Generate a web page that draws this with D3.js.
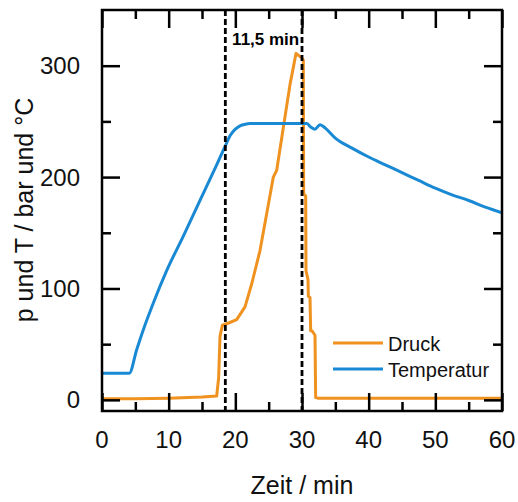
<!DOCTYPE html>
<html>
<head>
<meta charset="utf-8">
<script src="https://cdn.jsdelivr.net/npm/d3@7"></script>
<style>
  html, body { margin: 0; padding: 0; background: #fff; }
  svg { display: block; font-family: "Liberation Sans", Arial, sans-serif; }
</style>
</head>
<body>
<svg id="chart" width="518" height="502"></svg>
<script>
// ---- data ----
const tempTime = [0, 4.1, 5.2, 6.2, 7.7, 9.7, 12.2, 14.7, 17.2, 18.5, 19.2, 20, 20.7, 21.5, 22.2, 25, 28, 30.7, 31.3, 31.95, 32.7, 33.5, 35, 37.5, 40, 42.5, 45, 47.5, 50, 52.5, 55, 57.5, 60];
const tempValue = [24, 24, 45, 63, 87, 116, 147, 179, 211, 228, 237, 243, 246, 247.5, 248, 248, 248, 248, 245, 243, 247, 244, 235, 226, 218, 211, 204, 197, 190, 184, 179, 173, 168];

const pressTime = [0, 5, 10, 15, 17.2, 17.5, 17.7, 18.05, 19, 20.2, 21.45, 22.45, 23.7, 25.7, 26.2, 28.2, 29.1, 29.95, 30.2, 30.25, 30.55, 30.6, 30.9, 30.95, 31.2, 31.3, 31.5, 31.95, 32.05, 32.5, 40, 50, 60];
const pressValue = [1, 1, 1.5, 2.5, 3.5, 20, 57, 67, 69, 72, 83.5, 104, 134, 200, 206, 283, 311, 307, 305, 185, 183, 116, 108, 93, 92, 62, 62, 58, 2, 1.5, 1.5, 1.5, 1.5];

const markerTimes = [18.5, 30];
const markerLabel = "11,5 min";

const xTicks = [0, 10, 20, 30, 40, 50, 60];
const xMinorTicks = [5, 15, 25, 35, 45, 55];
const yTicks = [0, 100, 200, 300];
const yMinorTicks = [50, 150, 250];

const seriesNames = ["Druck", "Temperatur"];
const seriesColors = ["#EF921F", "#1A89D4"];

// ---- layout ----
const svg = d3.select("#chart");
const L = 102, T = 10, W = 400, H = 401;
const x = d3.scaleLinear().domain([0, 60]).range([L, L + W]);
const y = d3.scaleLinear().domain([-10, 350]).range([T + H, T]);

const line = d3.line().x(d => x(d[0])).y(d => y(d[1]));
const smoothLine = d3.line().x(d => x(d[0])).y(d => y(d[1])).curve(d3.curveMonotoneX);

const pressData = pressTime.map((t, i) => [t, pressValue[i]]);
const tempData = tempTime.map((t, i) => [t, tempValue[i]]);

svg.append("defs").append("clipPath").attr("id", "clip")
  .append("rect").attr("x", L).attr("y", T).attr("width", W).attr("height", H);

const plot = svg.append("g").attr("clip-path", "url(#clip)");

plot.append("path").datum(pressData)
  .attr("d", line).attr("fill", "none")
  .attr("stroke", seriesColors[0]).attr("stroke-width", 3).attr("stroke-linejoin", "round");

plot.append("path").datum(tempData)
  .attr("d", smoothLine).attr("fill", "none")
  .attr("stroke", seriesColors[1]).attr("stroke-width", 3).attr("stroke-linejoin", "round");

// dashed markers
plot.selectAll(".marker").data(markerTimes).enter().append("line")
  .attr("x1", d => x(d)).attr("x2", d => x(d))
  .attr("y1", T).attr("y2", T + H)
  .attr("stroke", "#000").attr("stroke-width", 2.8).attr("stroke-dasharray", "6,3");

svg.append("text")
  .attr("x", (x(markerTimes[0]) + x(markerTimes[1])) / 2 + 2)
  .attr("y", 45)
  .attr("text-anchor", "middle")
  .attr("font-size", 17).attr("font-weight", "bold")
  .text(markerLabel);

// axes with inward ticks (mirrored)
const major = 18, minor = 9;
const axB = d3.axisBottom(x).tickValues(xTicks).tickSize(-major).tickFormat(() => "");
const axBm = d3.axisBottom(x).tickValues(xMinorTicks).tickSize(-minor).tickFormat(() => "");
const axT = d3.axisTop(x).tickValues(xTicks).tickSize(-major).tickFormat(() => "");
const axTm = d3.axisTop(x).tickValues(xMinorTicks).tickSize(-minor).tickFormat(() => "");
const axL = d3.axisLeft(y).tickValues(yTicks).tickSize(-major).tickFormat(() => "");
const axLm = d3.axisLeft(y).tickValues(yMinorTicks).tickSize(-minor).tickFormat(() => "");
const axR = d3.axisRight(y).tickValues(yTicks).tickSize(-major).tickFormat(() => "");
const axRm = d3.axisRight(y).tickValues(yMinorTicks).tickSize(-minor).tickFormat(() => "");

function styleAxis(g) {
  g.select(".domain").remove();
  g.selectAll(".tick line").attr("stroke", "#000").attr("stroke-width", 2.5);
}
svg.append("g").attr("transform", `translate(0,${T + H})`).call(axB).call(styleAxis);
svg.append("g").attr("transform", `translate(0,${T + H})`).call(axBm).call(styleAxis);
svg.append("g").attr("transform", `translate(0,${T})`).call(axT).call(styleAxis);
svg.append("g").attr("transform", `translate(0,${T})`).call(axTm).call(styleAxis);
svg.append("g").attr("transform", `translate(${L},0)`).call(axL).call(styleAxis);
svg.append("g").attr("transform", `translate(${L},0)`).call(axLm).call(styleAxis);
svg.append("g").attr("transform", `translate(${L + W},0)`).call(axR).call(styleAxis);
svg.append("g").attr("transform", `translate(${L + W},0)`).call(axRm).call(styleAxis);

// frame
svg.append("rect").attr("x", L).attr("y", T).attr("width", W).attr("height", H)
  .attr("fill", "none").attr("stroke", "#000").attr("stroke-width", 2.5);

// tick labels
svg.selectAll(".xlab").data(xTicks).enter().append("text")
  .attr("x", d => x(d)).attr("y", 448)
  .attr("text-anchor", "middle").attr("font-size", 24).attr("fill", "#111")
  .text(d => d);
svg.selectAll(".ylab").data(yTicks).enter().append("text")
  .attr("x", 80).attr("y", d => y(d) + 8.5)
  .attr("text-anchor", "end").attr("font-size", 24).attr("fill", "#111")
  .text(d => d);

// axis titles
svg.append("text").attr("x", x(30)).attr("y", 494)
  .attr("text-anchor", "middle").attr("font-size", 25).attr("fill", "#111")
  .text("Zeit / min");
svg.append("text").attr("transform", "translate(33,210) rotate(-90)")
  .attr("text-anchor", "middle").attr("font-size", 25).attr("fill", "#111")
  .text("p und T / bar und °C");

// legend
const legY = [343, 369];
const leg = svg.append("g");
seriesNames.forEach((name, i) => {
  leg.append("line").attr("x1", 333).attr("x2", 383).attr("y1", legY[i]).attr("y2", legY[i])
    .attr("stroke", seriesColors[i]).attr("stroke-width", 3);
  leg.append("text").attr("x", 388).attr("y", legY[i] + 7.5)
    .attr("font-size", 20).attr("fill", "#111").text(name);
});
</script>
</body>
</html>
